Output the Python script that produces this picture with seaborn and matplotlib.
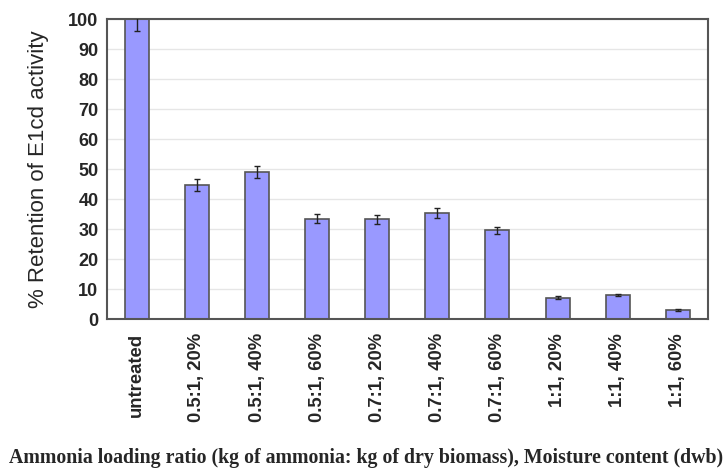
import matplotlib
matplotlib.use("Agg")
import matplotlib.pyplot as plt
import seaborn as sns
import pandas as pd
import numpy as np

categories = ["untreated", "0.5:1, 20%", "0.5:1, 40%", "0.5:1, 60%",
              "0.7:1, 20%", "0.7:1, 40%", "0.7:1, 60%",
              "1:1, 20%", "1:1, 40%", "1:1, 60%"]
retention = [100, 44.7, 49.2, 33.4, 33.3, 35.3, 29.6, 7.2, 8.1, 3.1]
errors = [4.0, 1.9, 2.0, 1.5, 1.5, 1.6, 1.1, 0.4, 0.4, 0.3]

df = pd.DataFrame({"cat": categories, "val": retention, "err": errors})

sns.set_style("white")
fig = plt.figure(figsize=(7.26, 4.68), dpi=100)
ax = fig.add_axes([0.147, 0.318, 0.828, 0.641])

sns.barplot(data=df, x="cat", y="val", ax=ax, color="#9999FF", saturation=1,
            width=0.4, edgecolor="#555555", linewidth=1.2, errorbar=None)

xs = [p.get_x() + p.get_width() / 2 for p in ax.patches]
ax.errorbar(xs, df["val"], yerr=df["err"], fmt="none", ecolor="#222222",
            elinewidth=1.0, capsize=2.5, capthick=1.0, clip_on=True, zorder=5)

ax.set_ylim(0, 100)
ax.set_xlim(-0.5, len(categories) - 0.5)
ax.set_yticks(np.arange(0, 101, 10))
ax.yaxis.grid(True, color="#E6E6E6", linewidth=1.0)
ax.set_axisbelow(True)

for s in ax.spines.values():
    s.set_color("#555555")
    s.set_linewidth(1.5)

ax.set_xticks(range(len(categories)))
ax.set_xticklabels(categories, rotation=90, fontsize=13.3, fontweight="bold",
                   family=["Liberation Sans", "DejaVu Sans"])
ax.tick_params(axis="x", length=0, pad=10)
ax.set_xticks(np.arange(-0.5, len(categories), 1), minor=True)
ax.tick_params(axis="x", which="minor", length=4, color="#BBBBBB", width=0.8)
for lab in ax.get_yticklabels():
    lab.set_fontsize(13)
    lab.set_fontweight("bold")
    lab.set_family(["Liberation Sans", "DejaVu Sans"])
ax.tick_params(axis="y", length=0, pad=6)

ax.set_ylabel("% Retention of E1cd activity", fontsize=16,
              family=["Liberation Sans", "DejaVu Sans"], labelpad=14)
ax.set_xlabel("")
fig.text(0.504, 0.021, "Ammonia loading ratio (kg of ammonia: kg of dry biomass), Moisture content (dwb)",
         ha="center", va="center", fontsize=14.3, fontweight="bold",
         family=["Liberation Serif", "DejaVu Serif"])

fig.savefig("out.png", dpi=100)
